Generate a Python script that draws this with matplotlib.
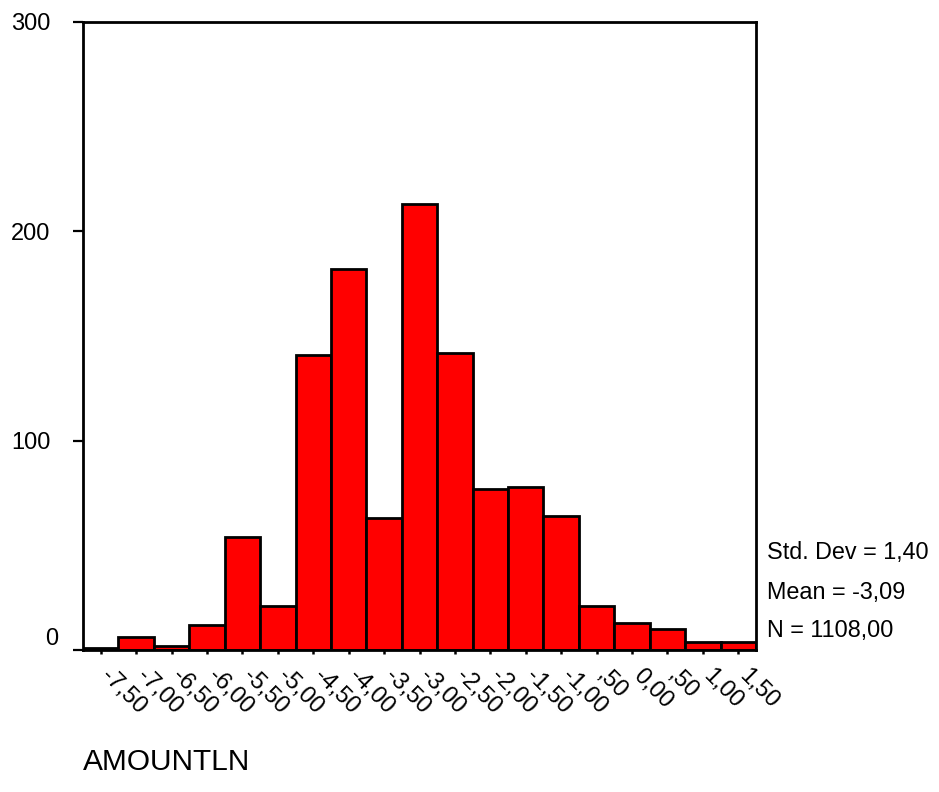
import numpy as np
import matplotlib.pyplot as plt
import matplotlib.transforms as mtransforms

plt.rcParams['font.family'] = ['Liberation Sans', 'DejaVu Sans']

# --- Data: histogram of AMOUNTLN (bin midpoints, width 0.5) ---
bin_mids = [-7.5, -7.0, -6.5, -6.0, -5.5, -5.0, -4.5, -4.0, -3.5, -3.0,
            -2.5, -2.0, -1.5, -1.0, -0.5, 0.0, 0.5, 1.0, 1.5]
counts = [1, 6, 2, 12, 54, 21, 141, 182, 63, 213,
          142, 77, 78, 64, 21, 13, 10, 4, 4]
xtick_labels = ["-7,50", "-7,00", "-6,50", "-6,00", "-5,50", "-5,00", "-4,50",
                "-4,00", "-3,50", "-3,00", "-2,50", "-2,00", "-1,50", "-1,00",
                ",50", "0,00", ",50", "1,00", "1,50"]
yticks = [0, 100, 200, 300]
stats = ["Std. Dev = 1,40", "Mean = -3,09", "N = 1108,00"]
var_name = "AMOUNTLN"

# --- Figure ---
W, H = 939, 792
fig = plt.figure(figsize=(W / 100, H / 100), dpi=100)
ax = fig.add_axes([83 / W, 142 / H, (756 - 83) / W, (650 - 21.7) / H])

ax.bar(bin_mids, counts, width=0.5, color="#ff0000", edgecolor="black",
       linewidth=2.0)

ax.set_xlim(-7.75, 1.75)
ax.set_ylim(0, 300)

for s in ax.spines.values():
    s.set_linewidth(2.0)

ax.set_yticks(yticks)
ax.set_yticklabels([str(v) for v in yticks], fontsize=17)
ax.tick_params(axis="y", length=7.5, width=1.6, pad=16, direction="out")

ax.set_xticks(bin_mids)
ax.set_xticklabels(xtick_labels, fontsize=17, rotation=-45,
                   ha="left", va="center", rotation_mode="anchor")
ax.tick_params(axis="x", length=3, width=1.8, pad=13, direction="out")

# nudge x labels to the right a bit
offset = mtransforms.ScaledTranslation(4 / 100, 0, fig.dpi_scale_trans)
for lab in ax.get_xticklabels():
    lab.set_transform(lab.get_transform() + offset)

# SPSS lifts the "0" label above the baseline
ylabs = ax.get_yticklabels()
ylabs[0].set_va("bottom")
ylabs[0].set_transform(ylabs[0].get_transform() +
                       mtransforms.ScaledTranslation(8 / 100, 0, fig.dpi_scale_trans))

# --- Stats box text ---
for i, t in enumerate(stats):
    fig.text(767 / W, 1 - (553 + 39 * i) / H, t, fontsize=16.8,
             ha="left", va="center")

fig.text(83 / W, 1 - 762 / H, var_name, fontsize=21.5, ha="left", va="center")

fig.savefig("out.png", dpi=100, facecolor="white")
